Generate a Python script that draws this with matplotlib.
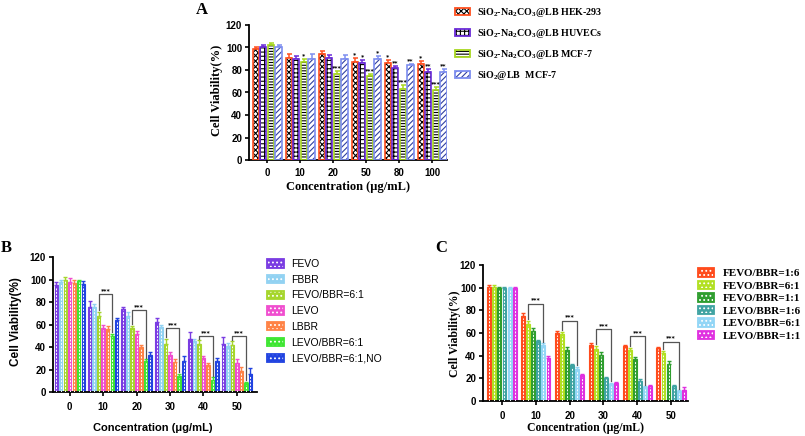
import matplotlib
matplotlib.use('Agg')
import matplotlib.pyplot as plt
import numpy as np
from matplotlib.patches import Patch
from matplotlib.legend_handler import HandlerTuple

plt.rcParams['mathtext.default'] = 'regular'
plt.rcParams['hatch.linewidth'] = 0.8

# ---------------- data ----------------
# Panel A
a_cats = ['0', '10', '20', '50', '80', '100']
a_labels = ['SiO$_2$-Na$_2$CO$_3$@LB HEK-293', 'SiO$_2$-Na$_2$CO$_3$@LB HUVECs',
            'SiO$_2$-Na$_2$CO$_3$@LB MCF-7', 'SiO$_2$@LB  MCF-7']
a_hek = [98.5, 91, 94, 87, 86.5, 85.5]
a_huv = [100, 89.5, 91, 86.5, 81.5, 78.5]
a_mcf = [102, 87.5, 76, 75, 63.5, 62]
a_sio = [100.5, 90, 89.5, 89.5, 84, 78]
a_hek_err = [2, 3.5, 3, 3.5, 2.5, 2.5]
a_huv_err = [2, 2.5, 2, 2.5, 2, 2]
a_mcf_err = [2, 2, 3, 1.5, 3, 2.5]
a_sio_err = [1.5, 4, 3.5, 2.5, 1.5, 3]
a_hek_sig = ['', '', '', '*', '*', '*']
a_huv_sig = ['', '', '', '*', '**', '**']
a_mcf_sig = ['', '*', '***', '***', '***', '***']
a_sio_sig = ['', '', '', '*', '**', '**']

# Panel B
b_cats = ['0', '10', '20', '30', '40', '50']
b_labels = ['FEVO', 'FBBR', 'FEVO/BBR=6:1', 'LEVO', 'LBBR', 'LEVO/BBR=6:1', 'LEVO/BBR=6:1,NO']
b_fevo = [95, 76, 74, 62, 47, 43]
b_fbbr = [98, 76, 68, 58, 45, 41]
b_fevo_bbr61 = [100, 68, 57, 43, 43, 42]
b_levo = [98, 57, 52, 33, 30, 26]
b_lbbr = [97, 56, 40, 27, 24, 19]
b_levo_bbr61 = [99, 50, 28, 14, 11, 8]
b_levo_bbr61_no = [96, 64, 33, 28, 28, 16]
b_fevo_err = [3, 5, 2, 4, 6, 6]
b_fbbr_err = [2, 2, 3, 2, 2, 3]
b_fevo_bbr61_err = [2, 3, 2, 4, 3, 3]
b_levo_err = [3, 3, 2, 3, 2, 3]
b_lbbr_err = [3, 3, 2, 2, 2, 3]
b_levo_bbr61_err = [1, 2, 1, 2, 2, 1]
b_levo_bbr61_no_err = [3, 2, 3, 4, 2, 5]
b_bracket_heights = [None, 87.5, 73, 56.5, 49.5, 49.5]

# Panel C
c_cats = ['0', '10', '20', '30', '40', '50']
c_labels = ['FEVO/BBR=1:6', 'FEVO/BBR=6:1', 'FEVO/BBR=1:1', 'LEVO/BBR=1:6', 'LEVO/BBR=6:1', 'LEVO/BBR=1:1']
c_f16 = [101, 75, 60, 49.5, 48.5, 47]
c_f61 = [101, 68, 59, 45.5, 45, 42.5]
c_f11 = [100, 62, 45, 41, 37, 33]
c_l16 = [99.5, 53, 31.5, 20.5, 18, 13.5]
c_l61 = [99.5, 49, 28, 15, 12, 8.5]
c_l11 = [100, 38, 23, 16, 13.5, 10]
c_f16_err = [1, 3, 2, 2, 1, 1]
c_f61_err = [1, 3, 2, 3, 2, 2]
c_f11_err = [1, 2, 3, 2, 2, 2]
c_l16_err = [1, 1, 1, 1, 1, 1]
c_l61_err = [1, 2, 2, 1, 1, 1]
c_l11_err = [1, 2, 1, 1, 1, 2]
c_bracket_heights = [None, 86, 71, 63.5, 57, 52.5]

# ---------------- figure ----------------
W, H = 805, 436
fig = plt.figure(figsize=(W / 100, H / 100), dpi=100)
SANS = 'Liberation Sans'
SERIF = 'Liberation Serif'


def ax_px(l, t, r, b):
    return fig.add_axes([l / W, 1 - b / H, (r - l) / W, (b - t) / H])


def style(ax, cats, xlim):
    for s in ['top', 'right']:
        ax.spines[s].set_visible(False)
    for s in ['left', 'bottom']:
        ax.spines[s].set_linewidth(1.3)
    ax.set_ylim(0, 120)
    ax.set_yticks(range(0, 121, 20))
    ax.set_xticks(range(len(cats)))
    ax.set_xticklabels(cats)
    ax.set_xlim(*xlim)
    ax.tick_params(direction='out', length=3, width=1.2, labelsize=7, pad=2)
    ax.tick_params(axis='x', pad=4)
    for lab in ax.get_xticklabels() + ax.get_yticklabels():
        lab.set_fontfamily(SANS)
        lab.set_fontweight('bold')


def ftext(x, y, s, **kw):
    fig.text(x / W, 1 - y / H, s, **kw)


# ---------- Panel A ----------
axA = ax_px(249, 25, 447, 160)
xA = np.arange(len(a_cats))
a_series = [a_hek, a_huv, a_mcf, a_sio]
a_errs = [a_hek_err, a_huv_err, a_mcf_err, a_sio_err]
a_sigs = [a_hek_sig, a_huv_sig, a_mcf_sig, a_sio_sig]
a_colors = ['#FF4F1F', '#6A2BD8', '#A8D820', '#7D8EF0']
a_hatch = ['xxxxxx', '++++', '------', '//////']
a_hcol = ['black', 'black', 'black', '#3040A0']
slotA, wA = 0.23, 0.19
for i, (vals, errs, sig) in enumerate(zip(a_series, a_errs, a_sigs)):
    pos = xA + (i - 1.5) * slotA
    axA.errorbar(pos, vals, yerr=[np.zeros(len(vals)), errs], fmt='none', ecolor=a_colors[i],
                 elinewidth=1.1, capsize=1.8, capthick=1.1, zorder=1)
    axA.bar(pos, vals, width=wA, facecolor='white', edgecolor=a_hcol[i], hatch=a_hatch[i], linewidth=0, zorder=2)
    axA.bar(pos, vals, width=wA, fill=False, edgecolor=a_colors[i], linewidth=1.2, zorder=3)
    for p, v, e, s in zip(pos, vals, errs, sig):
        if s:
            axA.text(p, v + e + 1.0, s, ha='center', va='bottom', fontsize=4.5, fontweight='bold', zorder=4)
style(axA, a_cats, (-0.55, 5.45))
axA.tick_params(axis='x', length=2)
ftext(217, 90, 'Cell Viability(%)', rotation=90, ha='center', va='center', family=SERIF, weight='bold', fontsize=9)
ftext(348, 187, 'Concentration (μg/mL)', ha='center', va='center', family=SERIF, weight='bold', fontsize=9)
ftext(196, 10, 'A', ha='left', va='center', family=SERIF, weight='bold', fontsize=12)

hA = [(Patch(facecolor='white', edgecolor=a_hcol[i], hatch=a_hatch[i], linewidth=0),
       Patch(fill=False, edgecolor=a_colors[i], linewidth=1.3)) for i in range(4)]
legA = fig.legend(hA, a_labels, loc='upper left', bbox_to_anchor=(455 / W, 1 - 6 / H),
                  frameon=False, borderpad=0, borderaxespad=0, handlelength=1.45, handleheight=0.6,
                  handletextpad=0.75, labelspacing=0.8,
                  prop={'family': SERIF, 'weight': 'bold', 'size': 7.2},
                  handler_map={tuple: HandlerTuple(ndivide=1, pad=0)})


def colored_bars(ax, xs, series, errs, colors, slot, width):
    n = len(series)
    for i, (vals, e) in enumerate(zip(series, errs)):
        pos = xs + (i - (n - 1) / 2) * slot
        ax.errorbar(pos, vals, yerr=[np.zeros(len(vals)), e], fmt='none', ecolor=colors[i],
                    elinewidth=1.0, capsize=1.5, capthick=1.0, zorder=1)
        ax.bar(pos, vals, width=width, color=colors[i], edgecolor=colors[i], linewidth=0.8, zorder=2)
        ax.vlines(pos, 0, np.array(vals) - 1.5, colors='white', linestyles=(0, (2, 1.5)), linewidth=0.7, zorder=3)


def brackets(ax, xs, series, errs, i0, i1, n, slot, heights):
    for g, h in enumerate(heights):
        if h is None:
            continue
        x0 = xs[g] + (i0 - (n - 1) / 2) * slot
        x1 = xs[g] + (i1 - (n - 1) / 2) * slot
        y0 = series[i0][g] + errs[i0][g] + 1.5
        y1 = series[i1][g] + errs[i1][g] + 1.5
        ax.plot([x0, x0, x1, x1], [y0, h, h, y1], color='#555555', lw=0.9, zorder=4)
        ax.text((x0 + x1) / 2, h + 0.8, '***', ha='center', va='bottom', fontsize=4.5, fontweight='bold', zorder=5)


# ---------- Panel B ----------
axB = ax_px(53, 257, 257, 392)
xB = np.arange(len(b_cats))
b_series = [b_fevo, b_fbbr, b_fevo_bbr61, b_levo, b_lbbr, b_levo_bbr61, b_levo_bbr61_no]
b_errs = [b_fevo_err, b_fbbr_err, b_fevo_bbr61_err, b_levo_err, b_lbbr_err, b_levo_bbr61_err, b_levo_bbr61_no_err]
b_colors = ['#7A3CE2', '#92D2F2', '#A6D62C', '#F04ECF', '#FF8346', '#3EE632', '#2143E0']
slotB, wB = 0.135, 0.1
colored_bars(axB, xB, b_series, b_errs, b_colors, slotB, wB)
brackets(axB, xB, b_series, b_errs, 2, 5, 7, slotB, b_bracket_heights)
style(axB, b_cats, (-0.5, 5.6))
ftext(16, 322, 'Cell Viability(%)', rotation=90, ha='center', va='center', family=SANS, weight='bold', fontsize=8.5)
ftext(153, 428, 'Concentration (μg/mL)', ha='center', va='center', family=SANS, weight='bold', fontsize=8)
ftext(1, 248, 'B', ha='left', va='center', family=SERIF, weight='bold', fontsize=12)

hB = [(Patch(facecolor=c, edgecolor='white', hatch='....', linewidth=0),
       Patch(fill=False, edgecolor=c, linewidth=1.3)) for c in b_colors]
fig.legend(hB, b_labels, loc='upper left', bbox_to_anchor=(267 / W, 1 - 259 / H),
           frameon=False, borderpad=0, borderaxespad=0, handlelength=1.6, handleheight=0.85,
           handletextpad=0.7, labelspacing=0.55,
           prop={'family': SANS, 'size': 7.5},
           handler_map={tuple: HandlerTuple(ndivide=1, pad=0)})

# ---------- Panel C ----------
axC = ax_px(483, 265, 688, 401)
xC = np.arange(len(c_cats))
c_series = [c_f16, c_f61, c_f11, c_l16, c_l61, c_l11]
c_errs = [c_f16_err, c_f61_err, c_f11_err, c_l16_err, c_l61_err, c_l11_err]
c_colors = ['#FF4B1C', '#B2E022', '#2F9E2F', '#3FA3A2', '#92D6F6', '#E030E0']
slotC, wC = 0.15, 0.115
colored_bars(axC, xC, c_series, c_errs, c_colors, slotC, wC)
brackets(axC, xC, c_series, c_errs, 1, 4, 6, slotC, c_bracket_heights)
style(axC, c_cats, (-0.56, 5.5))
ftext(455, 334, 'Cell Viability(%)', rotation=90, ha='center', va='center', family=SERIF, weight='bold', fontsize=8.5)
ftext(585, 428, 'Concentration (μg/mL)', ha='center', va='center', family=SERIF, weight='bold', fontsize=8.5)
ftext(435, 248, 'C', ha='left', va='center', family=SERIF, weight='bold', fontsize=12)

hC = [(Patch(facecolor=c, edgecolor='white', hatch='....', linewidth=0),
       Patch(fill=False, edgecolor=c, linewidth=1.3)) for c in c_colors]
fig.legend(hC, c_labels, loc='upper left', bbox_to_anchor=(698 / W, 1 - 268 / H),
           frameon=False, borderpad=0, borderaxespad=0, handlelength=1.4, handleheight=0.85,
           handletextpad=0.8, labelspacing=0.2,
           prop={'family': SERIF, 'weight': 'bold', 'size': 8},
           handler_map={tuple: HandlerTuple(ndivide=1, pad=0)})

fig.savefig('out.png', dpi=100)
